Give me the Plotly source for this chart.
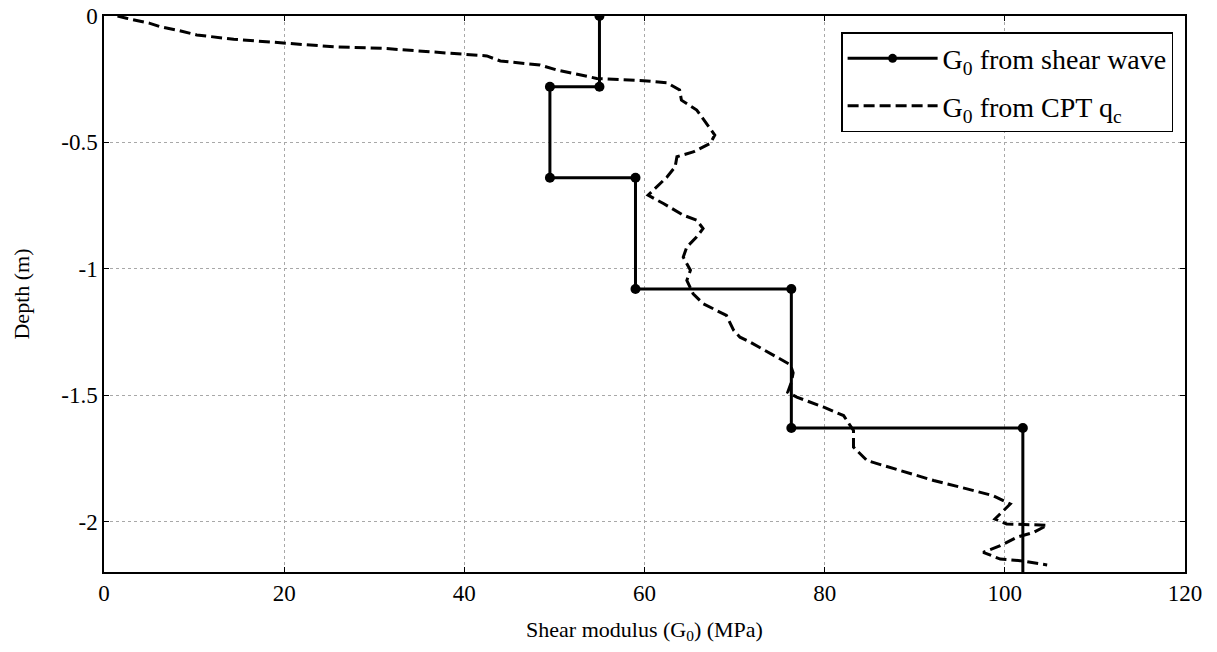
import plotly.graph_objects as go

# Shear-wave derived G0 (step profile)
sw_x = [55.0, 55.0, 49.5, 49.5, 59.0, 59.0, 76.3, 76.3, 102.0, 102.0]
sw_y = [0.0, -0.28, -0.28, -0.64, -0.64, -1.08, -1.08, -1.63, -1.63, -2.2]

# CPT qc derived G0 (dashed curve)
cpt_x = [1.5, 2.5, 5.1, 6.2, 8.4, 10.3, 14.4, 19.8, 25.5, 31.0,
         36.6, 39.9, 42.5, 44.0, 48.4, 50.3, 54.7, 59.9, 62.5, 63.9,
         64.1, 65.8, 66.9, 67.8, 67.3, 65.4, 63.6, 63.4, 62.5, 61.4,
         60.4, 62.1, 64.3, 65.8, 66.5, 65.8, 64.7, 64.3, 65.1, 64.7,
         65.4, 66.5, 69.1, 69.9, 70.6, 71.7, 74.7, 76.2, 76.5, 76.3,
         75.9, 76.9, 79.9, 82.1, 83.2, 83.2, 84.7, 88.4, 92.1, 95.8,
         98.7, 100.6, 99.5, 98.9, 100.2, 103.2, 104.7, 103.2, 101.3, 99.5,
         97.6, 99.5, 101.7, 104.7]
cpt_y = [0.0, -0.009, -0.029, -0.042, -0.058, -0.075, -0.092, -0.108, -0.122, -0.128,
         -0.144, -0.151, -0.158, -0.178, -0.194, -0.214, -0.247, -0.256, -0.264, -0.293,
         -0.333, -0.372, -0.425, -0.471, -0.504, -0.538, -0.557, -0.597, -0.637, -0.676,
         -0.709, -0.742, -0.788, -0.808, -0.841, -0.874, -0.914, -0.954, -1.006, -1.046,
         -1.099, -1.138, -1.185, -1.244, -1.271, -1.290, -1.350, -1.380, -1.412, -1.449,
         -1.489, -1.508, -1.548, -1.581, -1.640, -1.706, -1.759, -1.799, -1.838, -1.871,
         -1.898, -1.931, -1.970, -1.990, -2.010, -2.012, -2.015, -2.043, -2.063, -2.096,
         -2.122, -2.149, -2.155, -2.172]

x_ticks = [0, 20, 40, 60, 80, 100, 120]
y_ticks = [0, -0.5, -1, -1.5, -2]
y_tick_text = ["0", "-0.5", "-1", "-1.5", "-2"]

FONT = "Liberation Serif, Times New Roman, serif"

fig = go.Figure()
fig.add_trace(go.Scatter(
    x=sw_x, y=sw_y, mode="lines+markers",
    name="G<sub>0</sub> from shear wave", legendgroup="a",
    line=dict(color="black", width=3),
    marker=dict(color="black", opacity=1, size=[10] * (len(sw_x) - 1) + [0],
                line=dict(width=0)),
    opacity=1,
))
fig.add_trace(go.Scatter(
    x=cpt_x, y=cpt_y, mode="lines",
    name="G<sub>0</sub> from CPT q<sub>c</sub>", legendgroup="b",
    line=dict(color="black", width=3, dash="11px,5px"),
))

axis_common = dict(
    showline=True, linecolor="black", linewidth=1.5, mirror="ticks",
    ticks="inside", ticklen=5, tickcolor="black", tickwidth=1,
    showgrid=True, gridcolor="#a8a8a8", gridwidth=1, griddash="dot",
    zeroline=False, automargin=False,
    tickfont=dict(family=FONT, size=23, color="black"),
)

fig.update_xaxes(
    range=[0, 120], tickvals=x_ticks,
    title=dict(text="Shear modulus (G<sub>0</sub>) (MPa)",
               font=dict(family=FONT, size=22, color="black"), standoff=16),
    **axis_common,
)
fig.update_yaxes(
    range=[-2.2, 0], tickvals=y_ticks, ticktext=y_tick_text,
    title=dict(text="Depth (m)", font=dict(family=FONT, size=22, color="black"), standoff=26),
    **axis_common,
)

fig.update_layout(
    width=1217, height=652,
    margin=dict(l=104, r=32, t=16, b=80),
    plot_bgcolor="white", paper_bgcolor="white",
    font=dict(family=FONT, color="black"),
    legend=dict(
        x=0.989, y=0.971, xanchor="right", yanchor="top",
        bgcolor="white", bordercolor="black", borderwidth=1.5,
        font=dict(family=FONT, size=28, color="black"),
        itemwidth=90, tracegroupgap=8,
    ),
    showlegend=True,
)

fig.write_html("out.html", config={"displayModeBar": False},
               post_script="document.body.style.margin='0';")
